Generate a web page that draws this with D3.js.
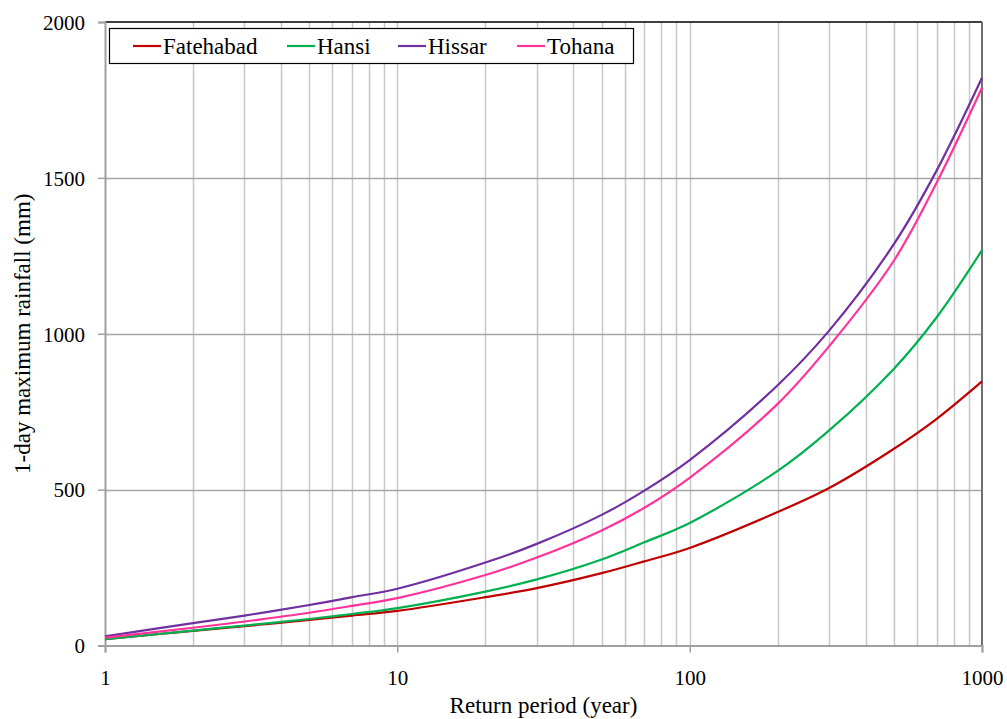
<!DOCTYPE html>
<html>
<head>
<meta charset="utf-8">
<script src="https://cdn.jsdelivr.net/npm/d3@7"></script>
<style>
  body { margin: 0; background: #fff; }
  text { font-family: "Liberation Serif", "Times New Roman", serif; fill: #000; }
</style>
</head>
<body>
<script>
var W = 1007, H = 719;
var margin = {top: 22, right: 25, bottom: 74, left: 105};

// return periods (years)
var periods = [1, 2, 3, 5, 7, 10, 20, 30, 50, 70, 100, 200, 300, 500, 700, 1000];

// 1-day maximum rainfall (mm)
var fatehabad = [20, 47, 62, 82, 96, 111, 155, 184, 232, 270, 313, 428, 505, 631, 727, 847];
var hansi     = [20, 48, 64, 85, 101, 120, 173, 212, 276, 331, 393, 560, 690, 888, 1053, 1268];
var hissar    = [29, 72, 96, 130, 155, 182, 266, 326, 419, 497, 595, 835, 1010, 1288, 1524, 1821];
var tohana    = [25, 57, 77, 105, 127, 152, 226, 282, 369, 442, 538, 775, 960, 1235, 1485, 1789];

var seriesNames = ["Fatehabad", "Hansi", "Hissar", "Tohana"];
var seriesValues = [fatehabad, hansi, hissar, tohana];
var colors = ["#C00000", "#00B050", "#7030A0", "#FF3399"];

var xTicks = [1, 10, 100, 1000];
var yTicks = [0, 500, 1000, 1500, 2000];
var xGrid = [2,3,4,5,6,7,8,9,10,20,30,40,50,60,70,80,90,100,200,300,400,500,600,700,800,900];

var svg = d3.select("body").append("svg")
  .attr("width", W).attr("height", H);

var x = d3.scaleLog().domain([1, 1000]).range([margin.left, W - margin.right]);
var y = d3.scaleLinear().domain([0, 2000]).range([H - margin.bottom + 0.5, margin.top]);

// vertical grid
svg.append("g").selectAll("line").data(xGrid).enter().append("line")
  .attr("x1", d => Math.round(x(d)) + 0.5).attr("x2", d => Math.round(x(d)) + 0.5)
  .attr("y1", y(2000)).attr("y2", y(0))
  .attr("stroke", "#c8c8c8").attr("stroke-width", 1.5);

// horizontal grid
svg.append("g").selectAll("line").data([500, 1000, 1500]).enter().append("line")
  .attr("x1", x(1)).attr("x2", x(1000))
  .attr("y1", d => Math.round(y(d)) + 0.5).attr("y2", d => Math.round(y(d)) + 0.5)
  .attr("stroke", "#a6a6a6").attr("stroke-width", 1.5);

// top and right border
svg.append("line").attr("x1", x(1)).attr("x2", x(1000)).attr("y1", y(2000)).attr("y2", y(2000))
  .attr("stroke", "#000").attr("stroke-width", 1.5);
svg.append("line").attr("x1", x(1000)).attr("x2", x(1000)).attr("y1", y(2000)).attr("y2", y(0))
  .attr("stroke", "#707070").attr("stroke-width", 2);

// axes
var xAxis = svg.append("g")
  .attr("transform", "translate(0," + y(0) + ")")
  .call(d3.axisBottom(x).tickValues(xTicks).tickFormat(d3.format("d")).tickSize(7).tickPadding(18));
var yAxis = svg.append("g")
  .attr("transform", "translate(" + x(1) + ",0)")
  .call(d3.axisLeft(y).tickValues(yTicks).tickFormat(d3.format("d")).tickSize(7).tickPadding(13));

[xAxis, yAxis].forEach(function(a) {
  a.select(".domain").attr("stroke", "#a0a0a0").attr("stroke-width", 2);
  a.selectAll(".tick line").attr("stroke", "#a0a0a0").attr("stroke-width", 1.5);
  a.selectAll(".tick text").attr("font-family", "Liberation Serif").attr("font-size", "21px").attr("fill", "#000");
});
yAxis.selectAll(".tick text").attr("dy", "0.35em");

// lines
var line = d3.line()
  .x((d, i) => x(periods[i]))
  .y(d => y(d))
  .curve(d3.curveCatmullRom.alpha(0.5));

svg.append("g").selectAll("path").data(seriesValues).enter().append("path")
  .attr("d", d => line(d))
  .attr("fill", "none")
  .attr("stroke", (d, i) => colors[i])
  .attr("stroke-width", 2.2);

// axis titles
svg.append("text")
  .attr("x", (x(1) + x(1000)) / 2).attr("y", 713)
  .attr("text-anchor", "middle").attr("font-size", "23px")
  .text("Return period (year)");
svg.append("text")
  .attr("transform", "translate(30," + (y(1000)) + ") rotate(-90)")
  .attr("text-anchor", "middle").attr("font-size", "23px")
  .text("1-day maximum rainfall (mm)");

// legend
var legend = svg.append("g");
legend.append("rect")
  .attr("x", 109.5).attr("y", 28.5).attr("width", 524).attr("height", 35)
  .attr("fill", "#fff").attr("stroke", "#000").attr("stroke-width", 1.2);
var legendX = [133, 287, 398, 517];
seriesNames.forEach(function(name, i) {
  legend.append("line")
    .attr("x1", legendX[i]).attr("x2", legendX[i] + 28)
    .attr("y1", 46).attr("y2", 46)
    .attr("stroke", colors[i]).attr("stroke-width", 2.2);
  legend.append("text")
    .attr("x", legendX[i] + 30).attr("y", 54)
    .attr("font-size", "23px")
    .text(name);
});
</script>
</body>
</html>
